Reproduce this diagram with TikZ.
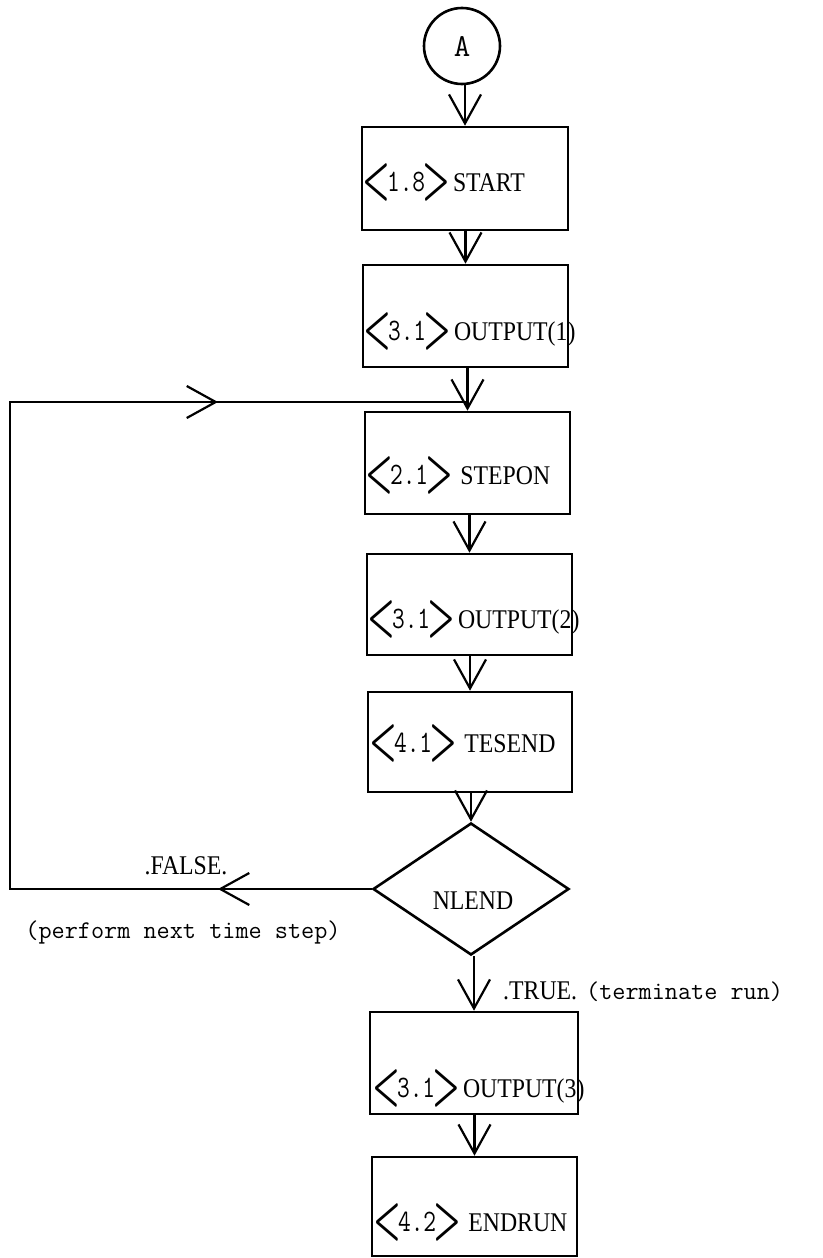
\documentclass[tikz,border=0pt]{standalone}
\usepackage{fontspec}
\usetikzlibrary{shapes.geometric,arrows.meta}
\newfontfamily\capfont{Liberation Serif}
\newcommand\capt[1]{{\capfont\fontsize{27}{27}\selectfont\scalebox{0.88}[1]{#1}}}
\newcommand\lbr{\raisebox{-5pt}{\fontsize{20}{20}\selectfont\scalebox{1.5}[2.7]{\boldmath$<$}}}
\newcommand\rbr{\raisebox{-5pt}{\fontsize{20}{20}\selectfont\scalebox{1.5}[2.7]{\boldmath$>$}}}
\newcommand\dig[1]{{\ttfamily\fontsize{26}{26}\selectfont\scalebox{0.95}[1.2]{#1}}}
\newcommand\lab[2]{\lbr\kern-3pt\dig{#1}\kern-3pt\rbr\hspace{3pt}\capt{#2}}
\newcommand\tyt{\ttfamily\fontsize{25.5}{25.5}\selectfont}
\tikzset{
  box/.style={draw, line width=2.6pt, rectangle, inner sep=0pt},
  lbl/.style={anchor=base west, inner sep=0pt},
  conn/.style={line width=2.2pt},
  arr/.style={conn, -{Straight Barb[length=29pt,width=32pt,line width=2.2pt]}},
}
\begin{document}
\begin{tikzpicture}[x=1pt,y=-1pt]
\useasboundingbox (0,0) rectangle (822,1258);
% connector node A
\node[draw, circle, line width=2.6pt, minimum size=76pt, inner sep=0pt] (A) at (462,46)
  {\ttfamily\fontsize{32}{32}\selectfont A};
% boxes
\node[box, minimum width=206pt, minimum height=103pt] (start)  at (465,178.5) {};
\node[box, minimum width=205pt, minimum height=102pt] (out1)   at (465.5,316) {};
\node[box, minimum width=205pt, minimum height=102pt] (stepon) at (467.5,463) {};
\node[box, minimum width=205pt, minimum height=101pt] (out2)   at (469.5,604.5) {};
\node[box, minimum width=204pt, minimum height=100pt] (tesend) at (470,742) {};
\node[draw, diamond, line width=2.6pt, inner sep=0pt, minimum width=196pt, minimum height=132pt] (nlend) at (471,889) {};
\node[box, minimum width=208pt, minimum height=102pt] (out3)   at (474,1063) {};
\node[box, minimum width=205pt, minimum height=99pt]  (endrun) at (474.5,1206.5) {};
% labels
\node[lbl] (lstart)  at (362,191)  {\lab{1.8}{START}};
\node[lbl] (lout1)   at (363,340)  {\lab{3.1}{OUTPUT(1)}};
\node[lbl] (lstepon) at (365,484)  {\lab{2.1}{\hspace{5pt}STEPON}};
\node[lbl] (lout2)   at (367,628)  {\lab{3.1}{OUTPUT(2)}};
\node[lbl] (ltesend) at (369,752)  {\lab{4.1}{\hspace{5pt}TESEND}};
\node[anchor=base, inner sep=0pt] (lnlend) at (473,909) {\capt{NLEND}};
\node[lbl] (lout3)   at (372,1097) {\lab{3.1}{OUTPUT(3)}};
\node[lbl] (lendrun) at (373,1231) {\lab{4.2}{\hspace{5pt}ENDRUN}};
\node[anchor=base, inner sep=0pt] (lfalse) at (186,874) {\capt{.FALSE.}};
\node[anchor=base, inner sep=0pt] (lperf) at (183,938) {\tyt (perform next time step)};
\node[lbl] (ltrue) at (503,999) {\capt{.TRUE.}\hspace{9pt}{\tyt(terminate run)}};
% main flow (vertical connectors)
\draw[arr] (start.north |- A.south) -- (start.north);
\draw[arr] (out1.north |- start.south) -- (out1.north);
\draw[arr] (stepon.north |- out1.south) -- (stepon.north);
\draw[arr] (out2.north |- stepon.south) -- (out2.north);
\draw[arr] (tesend.north |- out2.south) -- (tesend.north);
\draw[arr] (nlend.north |- tesend.south) -- (nlend.north);
\draw[arr] (out3.north |- nlend.south) -- (out3.north);
\draw[arr] (endrun.north |- out3.south) -- (endrun.north);
% loop back
\coordinate (lt) at (10,402);
\coordinate (mx) at (218,402);
\coordinate (lb) at (lt |- nlend.west);
\coordinate (fa) at (mx |- nlend.west);
\coordinate (ta) at (218,402);
\coordinate (j) at (stepon.north |- lt);
\draw[conn, line join=miter] (nlend.west) -- (lb) -- (lt) -- (j);
\draw[arr] (nlend.west) -- (fa);
\draw[arr] (lt) -- (ta);
\end{tikzpicture}
\end{document}
